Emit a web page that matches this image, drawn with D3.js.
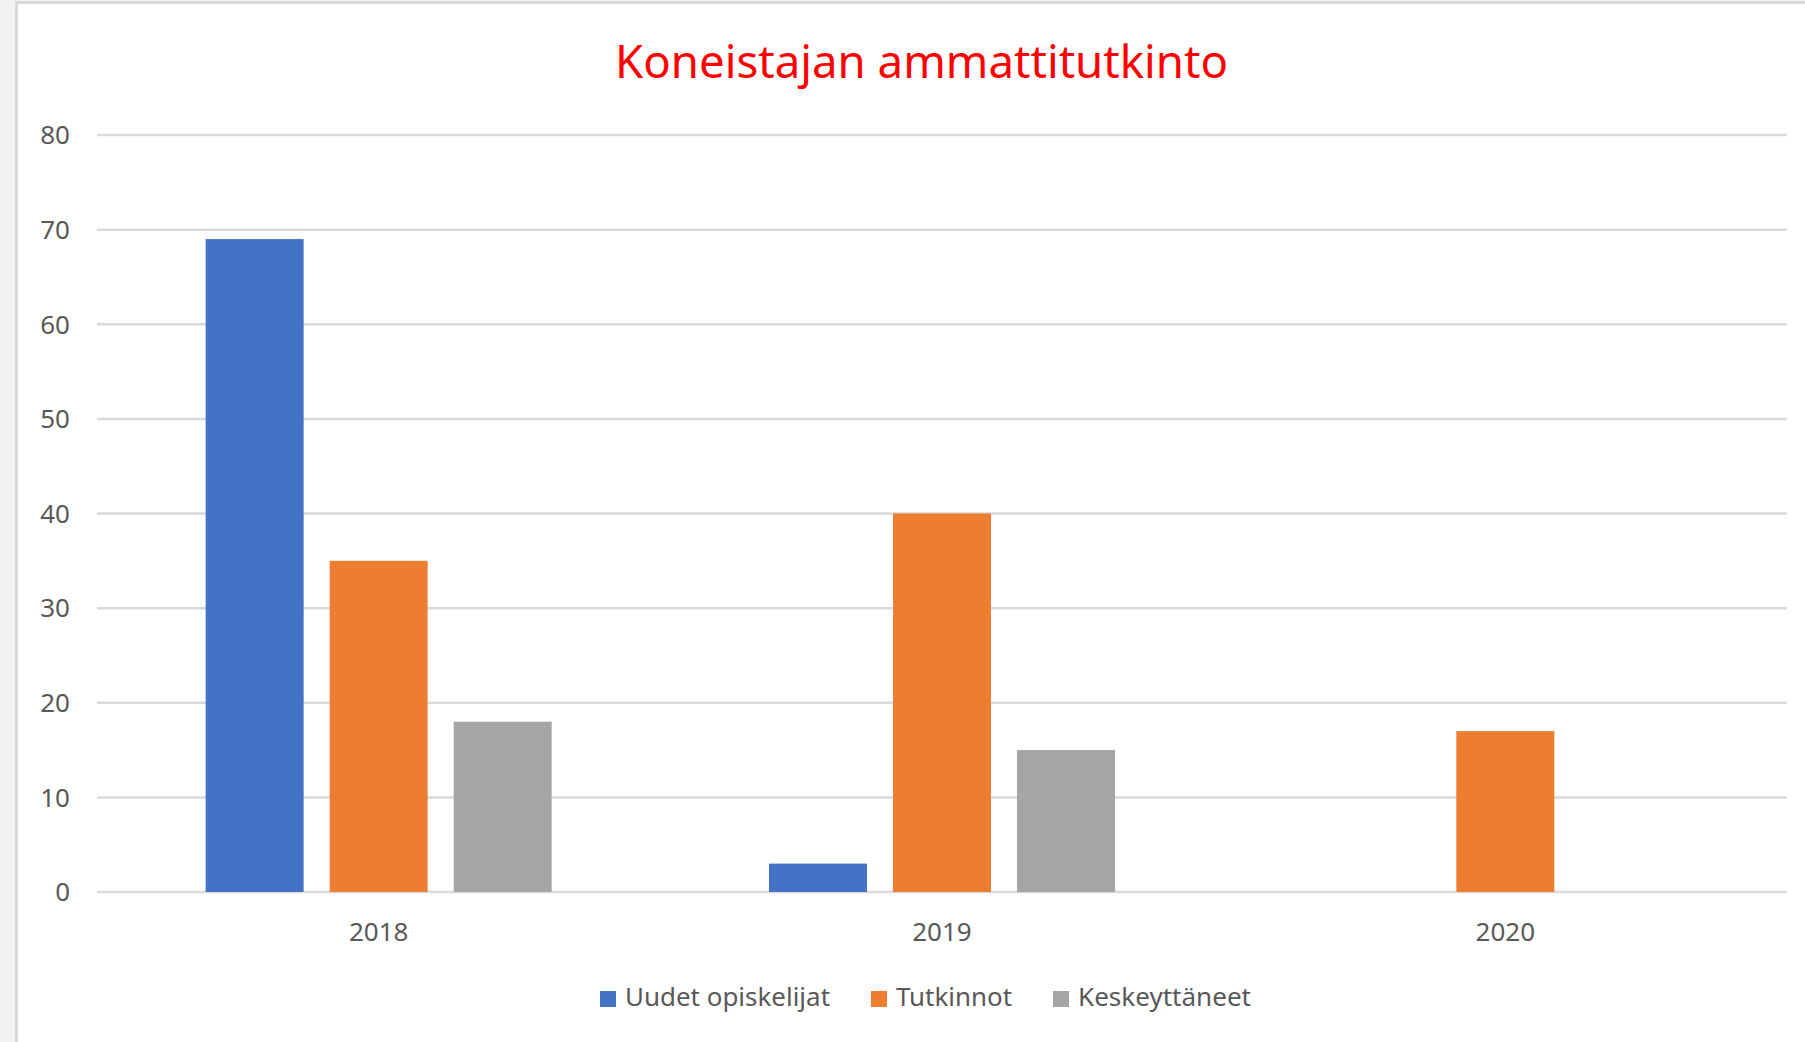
<!DOCTYPE html>
<html>
<head>
<meta charset="utf-8">
<script src="https://cdn.jsdelivr.net/npm/d3@7"></script>
<style>
  html, body { margin: 0; padding: 0; background: #f2f2f2; }
  svg { display: block; }
  text { font-family: "Noto Sans", "Open Sans", sans-serif; }
</style>
</head>
<body>
<div id="chart"></div>
<script>
'use strict';

// data
var years = ['2018', '2019', '2020'];
var seriesNames = ['Uudet opiskelijat', 'Tutkinnot', 'Keskeyttäneet'];
var uudet = [69, 3, 0];
var tutkinnot = [35, 40, 17];
var keskeyttaneet = [18, 15, 0];
var yTicks = [0, 10, 20, 30, 40, 50, 60, 70, 80];

var colors = ['#4472c4', '#ed7d31', '#a5a5a5'];
var series = [uudet, tutkinnot, keskeyttaneet];

function render() {
  var width = 1805;
  var height = 1042;

  d3.select('#chart').selectAll('svg').remove();

  var svg = d3.select('#chart').append('svg')
    .attr('width', width)
    .attr('height', height);

  // chart area with left strip + border
  svg.append('rect')
    .attr('x', 16.5).attr('y', 2.5)
    .attr('width', width).attr('height', height)
    .attr('fill', '#fff')
    .attr('stroke', '#d9d9d9')
    .attr('stroke-width', 3);

  var left = 97, right = 1787, top = 135, bottom = 892;

  var x0 = d3.scaleBand().domain(years).range([left, right]);
  var x1 = d3.scaleBand().domain(seriesNames)
    .range([x0.bandwidth() / 2 - 173, x0.bandwidth() / 2 + 173])
    .paddingInner(0.21);
  var y = d3.scaleLinear().domain([0, 80]).range([bottom, top]);

  // gridlines
  svg.append('g').selectAll('line')
    .data(yTicks)
    .enter().append('line')
    .attr('x1', left).attr('x2', right)
    .attr('y1', function(d) { return y(d); })
    .attr('y2', function(d) { return y(d); })
    .attr('stroke', '#d9d9d9')
    .attr('stroke-width', 2.5);

  // y labels
  svg.append('g').selectAll('text')
    .data(yTicks)
    .enter().append('text')
    .attr('x', 70)
    .attr('y', function(d) { return y(d); })
    .attr('dy', '0.36em')
    .attr('text-anchor', 'end')
    .attr('fill', '#595959')
    .attr('font-size', 26)
    .text(function(d) { return d; });

  // bars
  var groups = svg.append('g').selectAll('g')
    .data(years)
    .enter().append('g')
    .attr('transform', function(d) { return 'translate(' + x0(d) + ',0)'; });

  groups.selectAll('rect')
    .data(function(d, i) {
      return seriesNames.map(function(s, j) { return { name: s, value: series[j][i], color: colors[j] }; });
    })
    .enter().append('rect')
    .attr('x', function(d) { return x1(d.name); })
    .attr('width', x1.bandwidth())
    .attr('y', function(d) { return y(d.value); })
    .attr('height', function(d) { return y(0) - y(d.value); })
    .attr('fill', function(d) { return d.color; });

  // x labels
  svg.append('g').selectAll('text')
    .data(years)
    .enter().append('text')
    .attr('x', function(d) { return x0(d) + x0.bandwidth() / 2; })
    .attr('y', 941)
    .attr('text-anchor', 'middle')
    .attr('fill', '#595959')
    .attr('font-size', 26)
    .text(function(d) { return d; });

  // title
  svg.append('text')
    .attr('x', 615)
    .attr('y', 78)
    .attr('fill', '#ff0000')
    .attr('font-size', 46)
    .attr('textLength', 613)
    .attr('lengthAdjust', 'spacingAndGlyphs')
    .text('Koneistajan ammattitutkinto');

  // legend
  var legendX = [600, 871, 1053];
  var legendW = [205, 116, 173];
  var leg = svg.append('g').selectAll('g')
    .data(seriesNames)
    .enter().append('g')
    .attr('transform', function(d, i) { return 'translate(' + legendX[i] + ',0)'; });

  leg.append('rect')
    .attr('x', 0).attr('y', 991)
    .attr('width', 16).attr('height', 16)
    .attr('fill', function(d, i) { return colors[i]; });

  leg.append('text')
    .attr('x', 25)
    .attr('y', 1006)
    .attr('fill', '#595959')
    .attr('font-size', 26)
    .attr('textLength', function(d, i) { return legendW[i]; })
    .attr('lengthAdjust', 'spacingAndGlyphs')
    .text(function(d) { return d; });
}

render();
</script>
</body>
</html>
